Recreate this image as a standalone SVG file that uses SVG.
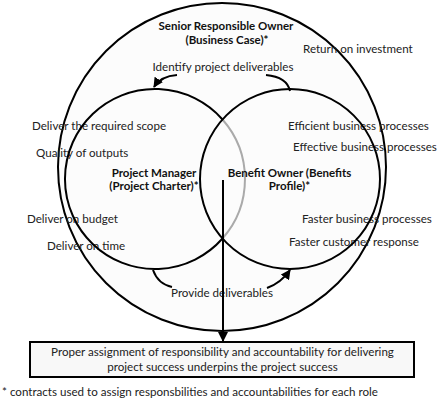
<svg xmlns="http://www.w3.org/2000/svg" width="438" height="400" viewBox="0 0 438 400">
<style>
.t{font-family:Lato,"Liberation Sans",sans-serif;font-size:11.6px;fill:#222}
.b{font-family:Lato,"Liberation Sans",sans-serif;font-size:11.5px;font-weight:bold;fill:#111}
.c{text-anchor:middle}
.ln{fill:none;stroke:#000;stroke-width:2}
.gr{fill:none;stroke:#aaa;stroke-width:2}
</style>
<defs>
<marker id="ah" viewBox="0 0 10 10" refX="9" refY="5" markerWidth="10" markerHeight="10" markerUnits="userSpaceOnUse" orient="auto">
<path d="M0,0 L10,5 L0,10 z" fill="#000"/>
</marker>
</defs>
<rect width="438" height="400" fill="#fff"/>
<g id="sro">
<circle cx="222" cy="167" r="164" fill="#fcfcfc" stroke="#000" stroke-width="2"/>
<text class="b c" x="226" y="30">Senior Responsible Owner</text>
<text class="b c" x="227" y="44">(Business Case)*</text>
</g>
<g id="benefits-text">
<text class="t" x="303" y="53">Return on investment</text>
<text class="t" x="32" y="130">Deliver the required scope</text>
<text class="t" x="288" y="130">Efficient business processes</text>
<text class="t" x="36" y="157">Quality of outputs</text>
<text class="t" x="293" y="151">Effective business processes</text>
<text class="t" x="27" y="223">Deliver on budget</text>
<text class="t" x="47" y="250">Deliver on time</text>
<text class="t" x="302" y="223">Faster business processes</text>
<text class="t" x="289" y="246">Faster customer response</text>
</g>
<g id="pm">
<path class="ln" d="M222.5,119.5 A90,90 0 1 0 222.5,238.5"/>
<path class="gr" d="M222.5,119.5 A90,90 0 0 1 222.5,238.5"/>
<text class="b c" x="154" y="177">Project Manager</text>
<text class="b c" x="154" y="190">(Project Charter)*</text>
</g>
<g id="bo">
<circle class="ln" cx="290" cy="179" r="90"/>
<text class="b c" x="289.5" y="177">Benefit Owner (Benefits</text>
<text class="b c" x="289.5" y="190">Profile)*</text>
</g>
<g id="outcome">
<rect x="30" y="342" width="384" height="35" fill="#f8f8f8" stroke="#000" stroke-width="2"/>
<text class="t c" x="222.5" y="356">Proper assignment of responsibility and accountability for delivering</text>
<text class="t c" x="222.5" y="370.5">project success underpins the project success</text>
</g>
<g id="connectors">
<path class="ln" d="M290,91 Q287,77 266,75"/>
<path class="ln" d="M177,75 Q161,76 154,87" marker-end="url(#ah)"/>
<text class="t c" x="223" y="71">Identify project deliverables</text>
<path class="ln" d="M153,270 Q158,284 172,287"/>
<path class="ln" d="M267,288 Q281,283 290,270" marker-end="url(#ah)"/>
<text class="t c" x="222" y="297">Provide deliverables</text>
<path class="ln" d="M223,180 L223,341" marker-end="url(#ah)"/>
</g>
<text class="t" x="2" y="396">* contracts used to assign responsbilities and accountabilities for each role</text>
</svg>
